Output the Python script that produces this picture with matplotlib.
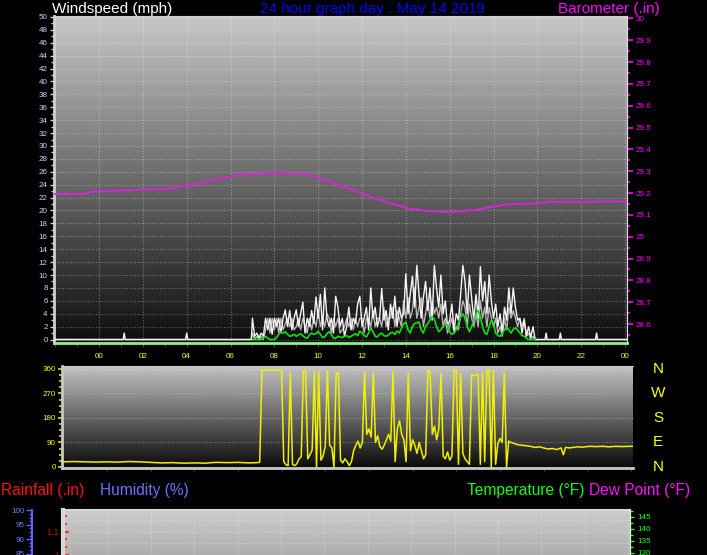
import numpy as np
import matplotlib
matplotlib.use('Agg')
import matplotlib.pyplot as plt
import matplotlib.transforms as mtransforms
from matplotlib.ticker import MultipleLocator

plt.rcParams['font.family'] = ['Liberation Sans', 'DejaVu Sans']

# ---------------- data ----------------
hour_ticks = [0, 2, 4, 6, 8, 10, 12, 14, 16, 18, 20, 22, 24]
hour_labels = ['00', '02', '04', '06', '08', '10', '12', '14', '16', '18', '20', '22', '00']
wind_ticks = list(range(0, 51, 2))
baro_ticks = [28.6, 28.7, 28.8, 28.9, 29.0, 29.1, 29.2, 29.3, 29.4, 29.5, 29.6, 29.7, 29.8, 29.9, 30.0]
dir_ticks = [0, 90, 180, 270, 360]
compass_labels = ['N', 'E', 'S', 'W', 'N']
rain_ticks = [1.0, 1.1]
rain_labels = ['1', '1.1']
hum_ticks = [85, 90, 95, 100]
temp_ticks = [130, 135, 140, 145]

# barometer (inHg)
baro_hours = [-2.05, -0.7, -0.3, 1.1, 3.1, 4.0, 5.2, 5.85, 6.6, 7.95, 8.7, 9.6, 10.7,
              11.8, 12.8, 14.1, 15.0, 16.0, 17.1, 18.6, 20.1, 20.6, 22.0, 24.09]
baro_values = [29.196, 29.196, 29.206, 29.212, 29.22, 29.234, 29.258, 29.274, 29.286,
               29.291, 29.290, 29.284, 29.245, 29.206, 29.168, 29.13, 29.118, 29.111,
               29.122, 29.148, 29.153, 29.16, 29.16, 29.162]

# wind (mph): quiet periods with isolated 1 mph spikes, active period sampled every 0.1 h
wind_hours_pre = [-2.05, 1.1, 1.15, 1.2, 3.95, 4.0, 4.05, 6.95]
gust_pre = [0, 0, 1.0, 0, 0, 1.0, 0, 0]
wind_hours_active = np.round(np.arange(7.0, 19.95, 0.1), 2)
gust_active = [
    3.3, 0.5, 1.0, 0.3, 1.0, 0.5, 3.3, 1.5, 3.3, 0.8, 3.3,
    2.0, 3.3, 1.0, 3.3, 4.6, 2.0, 4.5, 1.5, 3.3, 4.6,
    2.0, 4.0, 5.8, 1.0, 3.3, 2.0, 4.5, 2.5, 6.6, 3.3,
    7.0, 1.5, 8.0, 3.3, 2.0, 3.3, 1.0, 6.7, 5.0, 2.0,
    3.3, 0.5, 2.0, 5.0, 1.5, 3.3, 2.5, 5.5, 6.7, 2.0,
    3.3, 5.0, 1.5, 8.0, 3.3, 5.0, 2.0, 3.3, 7.9, 3.0,
    4.5, 1.5, 5.5, 3.3, 6.7, 2.0, 5.0, 3.3, 4.0, 10.2,
    4.0, 7.0, 9.8, 5.0, 11.5, 7.0, 3.3, 6.5, 9.0, 4.5,
    8.0, 3.0, 11.5, 8.0, 5.0, 10.0, 4.0, 6.0, 2.0, 3.0,
    5.5, 1.5, 4.0, 3.0, 7.0, 11.5, 9.0, 4.0, 10.0, 6.5,
    3.0, 7.0, 3.3, 11.3, 6.0, 9.0, 4.0, 10.0, 6.0, 3.3,
    5.5, 2.0, 4.0, 1.0, 5.0, 3.0, 8.0, 4.0, 8.0, 5.0,
    3.0, 3.3, 1.0, 3.0, 0.5, 2.0, 0.3, 2.0, 0.0]
speed_active = [
    1.0, 0.0, 0.5, 0.0, 0.5, 0.0, 1.5, 3.3, 1.0, 3.3, 1.5,
    3.3, 1.0, 3.3, 1.5, 2.5, 3.3, 2.0, 3.3, 1.5, 2.0,
    3.3, 1.5, 3.3, 2.0, 1.0, 3.3, 1.5, 3.3, 2.0, 4.5,
    2.0, 3.3, 2.0, 4.0, 3.3, 1.0, 3.3, 2.0, 3.3, 1.0,
    1.5, 2.0, 3.3, 2.0, 3.3, 1.5, 3.3, 2.0, 3.3, 3.3,
    1.0, 3.3, 3.3, 2.0, 4.5, 2.0, 3.3, 3.3, 2.0, 5.0,
    2.0, 3.3, 3.3, 5.0, 2.0, 4.5, 3.3, 2.0, 6.0, 3.3,
    6.5, 3.3, 4.5, 8.0, 3.3, 5.0, 6.5, 2.0, 4.0, 6.0,
    3.3, 6.0, 4.0, 5.0, 3.3, 5.5, 2.0, 3.3, 1.0, 2.0,
    3.3, 1.0, 2.0, 1.5, 4.0, 6.0, 5.0, 2.0, 5.5, 3.3,
    2.0, 4.0, 2.0, 6.0, 3.3, 5.0, 2.0, 5.0, 3.3, 2.0,
    3.3, 1.0, 2.0, 0.5, 3.3, 1.5, 5.0, 3.3, 4.5, 3.3,
    2.0, 3.3, 2.0, 3.3, 0.5, 1.0, 0.0, 0.5, 0.0]
avg_active = [
    0, 0, 0, 0, 0, 0.3, 0.5, 0.2, 0, 0, 0,
    0.3, 0.8, 1.2, 1.0, 1.2, 0.8, 0.5, 0.6, 0.8, 0.5,
    0.7, 0.9, 0.6, 0.3, 0.2, 0.7, 1.0, 0.8, 0.9, 1.3,
    0.8, 0.3, 0.4, 0.9, 1.2, 0.8, 0.2, 0.2, 0.5, 0.4,
    0.3, 0.5, 0.6, 0.3, 0.5, 0.7, 0.9, 0.6, 1.3, 1.0,
    0.6, 0.4, 1.0, 1.8, 1.2, 0.5, 0.4, 0.8, 1.0, 0.6,
    0.5, 0.7, 1.0, 1.1, 0.8, 1.3, 1.0, 1.8, 2.4, 2.7,
    1.5, 1.0, 2.0, 2.5, 2.6, 2.7, 1.5, 1.0, 2.0, 2.5,
    3.0, 3.5, 3.2, 2.0, 1.2, 1.5, 2.0, 2.4, 2.3, 1.2,
    0.8, 1.0, 1.5, 2.5, 3.5, 4.0, 3.3, 2.0, 1.2, 2.0,
    3.0, 4.0, 4.5, 3.5, 2.0, 1.0, 0.8, 2.0, 3.0, 2.5,
    1.0, 0.6, 0.5, 1.0, 1.5, 1.9, 1.5, 1.0, 1.6, 1.8,
    1.5, 1.0, 0.6, 0.5, 0.2, 0, 0, 0, 0]
wind_hours_post = [20.35, 20.4, 20.45, 21.0, 21.05, 21.1, 22.65, 22.7, 22.75, 24.09]
gust_post = [0, 1.0, 0, 0, 1.0, 0, 0, 1.0, 0, 0]
speed_hours_quiet = [-2.05, 6.95, 19.95, 24.09]
speed_quiet = [0, 0, 0, 0]

# wind direction (degrees)
dir_hours_pre = [-2.05, -1.5, -1.0, -0.5, 0.0, 0.5, 1.0, 1.5, 2.0, 2.5, 3.0, 3.5,
                 4.0, 4.5, 5.0, 5.5, 6.0, 6.5, 6.9]
dir_pre = [19, 20, 19, 18, 19, 18, 20, 19, 17, 15, 16, 14, 15, 14, 17, 16, 17, 15, 16]
dir_hours_active = np.round(np.arange(7.0, 18.65, 0.1), 2)
dir_active = [
    18,
    355, 356, 355, 357, 355, 356, 355, 354, 356, 355,
    20, 8, 5, 345, 10, 5, 12, 30, 38, 355,
    355, 30, 45, 62, 350, 0, 350, 25, 40, 77,
    355, 80, 70, 0, 345, 345, 25, 15, 30, 20,
    5, 20, 60, 80, 95, 70, 90, 350, 120, 140,
    110, 345, 90, 115, 75, 65, 80, 100, 120, 95,
    350, 20, 140, 170, 120, 100, 20, 345, 60, 100,
    80, 50, 90, 60, 30, 45, 355, 350, 120, 150,
    100, 140, 345, 40, 30, 55, 25, 40, 355, 355,
    10, 345, 50, 30, 20, 10, 340, 335, 340, 340,
    10, 345, 20, 355, 355, 0, 355, 10, 85, 105,
    90, 345, 0, 95, 90, 88]
dir_hours_post = [18.8, 19.0, 19.2, 19.4, 19.6, 19.8, 20.0, 20.2, 20.4, 20.6, 20.8, 20.9,
                  21.0, 21.2, 21.5, 21.8, 22.1, 22.4, 22.7, 23.0, 23.3, 23.6, 23.9, 24.09]
dir_post = [82, 80, 78, 76, 72, 74, 70, 66, 68, 64, 70, 45, 72, 70, 74, 73, 76, 75, 76,
            74, 76, 75, 76, 76]

# ---------------- layout ----------------
W, H = 707, 555
fig = plt.figure(figsize=(W / 100, H / 100), dpi=100, facecolor='black')


def rect(l, t, r, b):
    return [l / W, 1 - b / H, (r - l) / W, (b - t) / H]


XL = (-2.053, 24.09)
TICKFONT = 5.8
GRID = dict(color='white', alpha=0.33, ls=(0, (1, 1.5)), lw=0.8)


def gradient(ax, top, bottom, ylim):
    g = np.linspace(top, bottom, 256).reshape(-1, 1)
    ax.imshow(g, extent=[XL[0], XL[1], ylim[0], ylim[1]], aspect='auto', cmap='gray',
              vmin=0, vmax=1, zorder=0, interpolation='bilinear')
    ax.set_xlim(*XL)
    ax.set_ylim(*ylim)


# ---- top: wind speed + barometer ----
ax = fig.add_axes(rect(54, 16, 627, 343))
ax.set_facecolor('black')
WY = (-0.54, 50.15)
gradient(ax, 0.78, 0.05, WY)
ax.set_yticks(wind_ticks)
ax.set_yticklabels([str(v) for v in wind_ticks])
ax.yaxis.set_minor_locator(MultipleLocator(1))
ax.set_xticks(hour_ticks)
ax.set_xticklabels(hour_labels)
ax.xaxis.set_minor_locator(MultipleLocator(1))
ax.grid(True, which='major', **GRID)
ax.set_axisbelow(True)
ax.tick_params(axis='y', which='both', colors='#d0d0d0', labelcolor='#c8d8ff',
               labelsize=TICKFONT, pad=1.5, width=1)
ax.tick_params(axis='y', which='major', length=3)
ax.tick_params(axis='y', which='minor', length=2)
ax.tick_params(axis='x', which='both', colors='#505050', labelcolor='#ffff00',
               labelsize=TICKFONT, pad=4, length=3)
for s in ['left', 'right', 'top']:
    ax.spines[s].set_color('#d0d0d0')
ax.spines['left'].set_linewidth(2)
ax.spines['bottom'].set_color('#90f090')
ax.spines['bottom'].set_linewidth(2)

gust_h = list(wind_hours_pre) + list(wind_hours_active) + wind_hours_post
gust_v = gust_pre + gust_active + gust_post
speed_h = speed_hours_quiet[:2] + list(wind_hours_active) + speed_hours_quiet[2:]
speed_v = speed_quiet[:2] + speed_active + speed_quiet[2:]
ax.plot(speed_h, speed_v, color='#b4b4b4', lw=1.0, zorder=2)
ax.plot(gust_h, gust_v, color='#f4f4f4', lw=1.0, zorder=3)
ax.plot(wind_hours_active, avg_active, color='#10e010', lw=1.2, zorder=4)

ax2 = ax.twinx()
ax2.set_ylim(28.513, 30.011)
ax2.set_yticks(baro_ticks)
ax2.set_yticklabels([f"{round(v, 1):g}" for v in baro_ticks])
ax2.yaxis.set_minor_locator(MultipleLocator(0.05))
ax2.tick_params(axis='y', which='both', colors='#ff00ff', labelsize=TICKFONT, pad=2, width=1.2)
ax2.tick_params(axis='y', which='major', length=4)
ax2.tick_params(axis='y', which='minor', length=2)
for s in ['left', 'top', 'bottom']:
    ax2.spines[s].set_visible(False)
ax2.spines['right'].set_color('#e0e0e0')
ax2.plot(baro_hours, baro_values, color='#e020e0', lw=1.3, zorder=5)

TOP_BASE = 1 - 13 / H
fig.text(52 / W, TOP_BASE, 'Windspeed (mph)', color='white', fontsize=11, va='baseline', ha='left')
fig.text(373 / W, TOP_BASE, '24 hour graph day : May 14 2019', color='#0000ff', fontsize=11,
         va='baseline', ha='center')
fig.text(558 / W, TOP_BASE, 'Barometer (.in)', color='#ff00ff', fontsize=11, va='baseline', ha='left')

# ---- middle: wind direction ----
ax3 = fig.add_axes(rect(62, 366, 633, 468))
ax3.set_facecolor('black')
DY = (-3.7, 371)
gradient(ax3, 0.76, 0.04, DY)
ax3.set_yticks(dir_ticks)
ax3.set_yticklabels([str(v) for v in dir_ticks])
ax3.yaxis.set_minor_locator(MultipleLocator(22.5))
ax3.set_xticks(hour_ticks)
ax3.set_xticklabels([])
ax3.yaxis.grid(True, **GRID)
ax3.set_axisbelow(True)
ax3.tick_params(axis='y', which='both', colors='#e0e000', labelcolor='#ffff00',
                labelsize=TICKFONT, pad=1.5, width=1.2)
ax3.tick_params(axis='y', which='major', length=3)
ax3.tick_params(axis='y', which='minor', length=2)
ax3.tick_params(axis='x', colors='#404040', length=2)
for s in ['left', 'bottom', 'top']:
    ax3.spines[s].set_color('#c8c8c8')
ax3.spines['left'].set_linewidth(2)
ax3.spines['bottom'].set_linewidth(2)
ax3.spines['right'].set_visible(False)
dir_h = dir_hours_pre + list(dir_hours_active) + dir_hours_post
dir_v = dir_pre + dir_active + dir_post
ax3.plot(dir_h, dir_v, color='#f0f000', lw=1.1, zorder=3)
blend = mtransforms.blended_transform_factory(ax3.transAxes, ax3.transData)
for lbl, v in zip(compass_labels, dir_ticks):
    ax3.text(1.044, v, lbl, transform=blend, color='#ffff00', fontsize=11,
             ha='center', va='center', clip_on=False)

# ---- bottom labels ----
fig.text(1 / W, 1 - 490 / H, 'Rainfall (.in)', color='#ff1010', fontsize=11.2, va='center', ha='left')
fig.text(100 / W, 1 - 490 / H, 'Humidity (%)', color='#7070ff', fontsize=11.2, va='center', ha='left')
fig.text(467 / W, 1 - 490 / H, 'Temperature (°F)', color='#10ff10', fontsize=11.2, va='center', ha='left')
fig.text(589 / W, 1 - 490 / H, 'Dew Point (°F)', color='#ff10ff', fontsize=11.2, va='center', ha='left')

# ---- bottom: rain / humidity / temperature (only top visible) ----
ax4 = fig.add_axes(rect(63, 510, 630, 700))
ax4.set_facecolor('black')
RY = (0.368, 1.194)
gradient(ax4, 0.80, 0.30, RY)
ax4.set_yticks(rain_ticks)
ax4.set_yticklabels(rain_labels)
ax4.yaxis.set_minor_locator(MultipleLocator(1 / 30))
ax4.set_xticks(hour_ticks)
ax4.set_xticklabels([])
ax4.grid(True, which='major', axis='x', **GRID)
ax4.set_axisbelow(True)
for yv in [1.0, 1.05, 1.1, 1.15]:
    ax4.axhline(yv, zorder=0.5, **GRID)
ax4.tick_params(axis='y', which='both', direction='in', colors='#ff3030', labelcolor='#d00000',
                labelsize=6.5, pad=3, width=1.5)
ax4.tick_params(axis='y', which='major', length=4)
ax4.tick_params(axis='y', which='minor', length=3)
ax4.tick_params(axis='x', length=0)
ax4.spines['left'].set_color('#d8d8d8')
ax4.spines['left'].set_linewidth(3)
ax4.spines['top'].set_color('#d8d8d8')
ax4.spines['top'].set_linewidth(1.5)
ax4.spines['right'].set_color('#e8e8e8')
ax4.spines['bottom'].set_visible(False)

ax5 = ax4.twinx()
ax5.set_ylim(68.75, 147.9)
ax5.set_yticks(temp_ticks)
ax5.set_yticklabels([str(v) for v in temp_ticks])
ax5.yaxis.set_minor_locator(MultipleLocator(2.5))
ax5.tick_params(axis='y', which='both', colors='#20ff20', labelsize=TICKFONT, pad=2, width=1)
ax5.tick_params(axis='y', which='major', length=3)
ax5.tick_params(axis='y', which='minor', length=2)
for s in ['left', 'top', 'bottom']:
    ax5.spines[s].set_visible(False)
ax5.spines['right'].set_color('#e8e8e8')

ax6 = ax4.twinx()
ax6.set_ylim(34.2, 100.12)
ax6.yaxis.tick_left()
ax6.spines['left'].set_position(('axes', (32 - 63) / 567))
ax6.spines['left'].set_color('#6060ff')
ax6.spines['left'].set_linewidth(1.5)
for s in ['right', 'top', 'bottom']:
    ax6.spines[s].set_visible(False)
ax6.set_yticks(hum_ticks)
ax6.set_yticklabels([str(v) for v in hum_ticks])
ax6.yaxis.set_minor_locator(MultipleLocator(1.25))
ax6.tick_params(axis='y', which='both', colors='#6060ff', labelcolor='#7080ff',
                labelsize=TICKFONT, pad=1.5, width=1)
ax6.tick_params(axis='y', which='major', length=4)
ax6.tick_params(axis='y', which='minor', length=2)

fig.savefig('out.png', dpi=100, facecolor='black')
